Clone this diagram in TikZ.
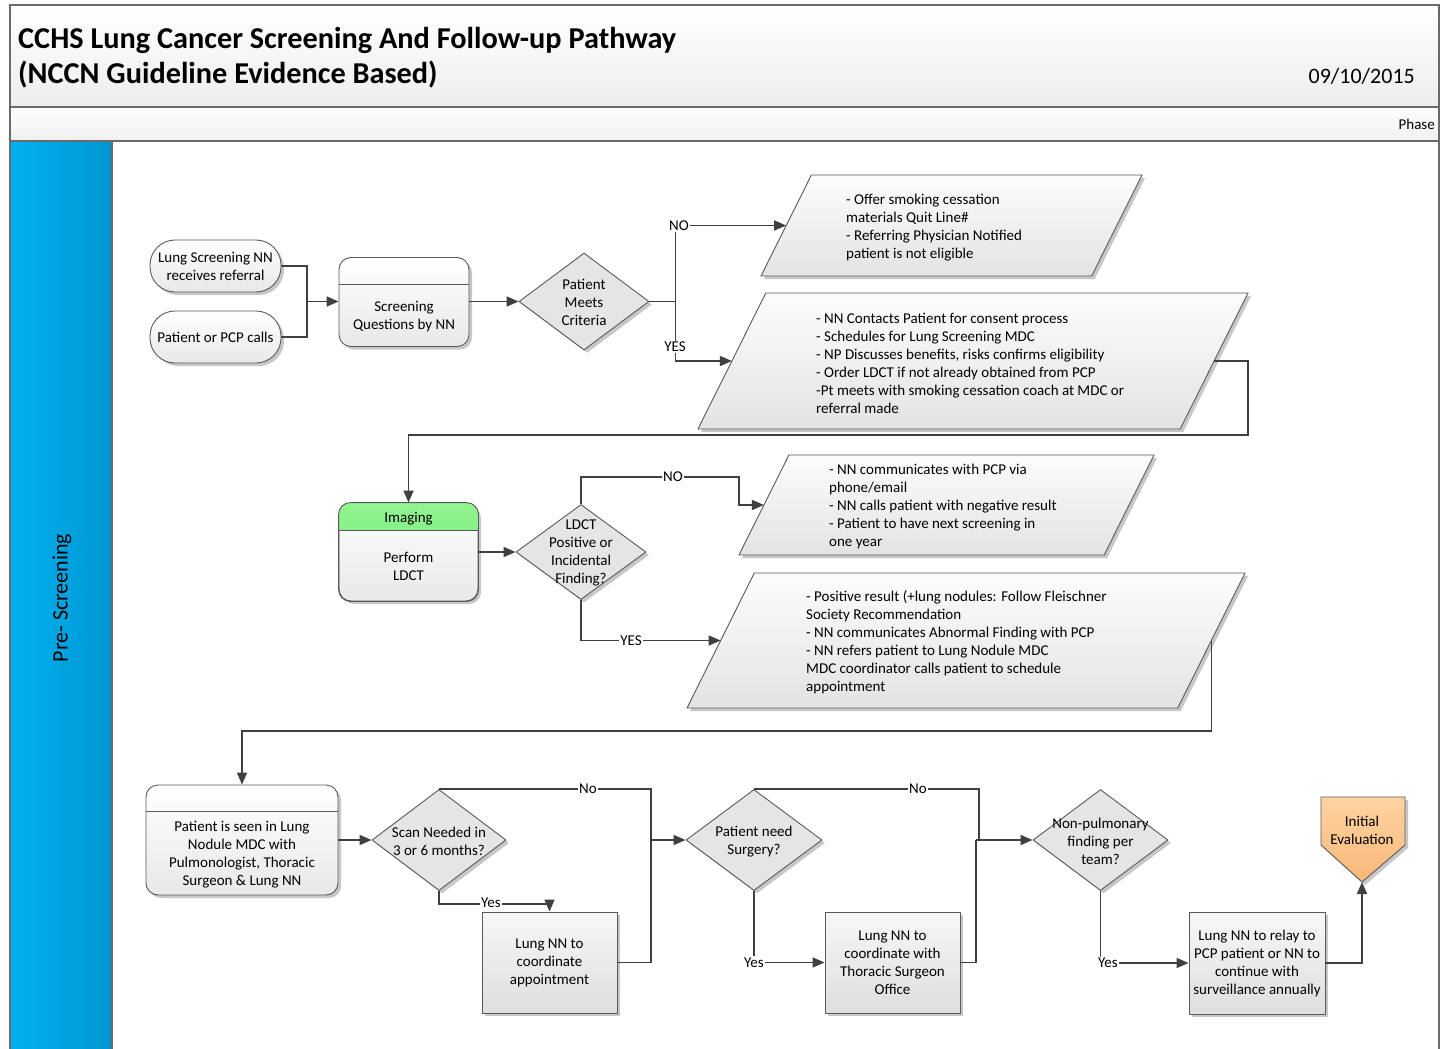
\documentclass[tikz,border=0pt]{standalone}
\usepackage{fontspec}
\setmainfont{Carlito}
\usetikzlibrary{arrows.meta,shapes.geometric,shadows,calc}
\definecolor{linec}{HTML}{404040}
\definecolor{edgec}{HTML}{5A5A5A}
\definecolor{framec}{HTML}{6A6A6A}
\definecolor{lanec}{HTML}{00B2F0}
\definecolor{laned}{HTML}{0096D2}
\definecolor{hdrtop}{HTML}{92F592}
\definecolor{hdrbot}{HTML}{6EE46E}
\definecolor{ietop}{HTML}{FFD3A3}
\definecolor{iebot}{HTML}{F8B877}
\newcommand\txtsize{\fontsize{15}{18}\selectfont}
% parallelogram (data box): name, centre x, centre y, width, height
\newcommand\ioshape[5]{%
  \pgfmathsetmacro\ioo{#5*0.4986}%
  \path[io] (#2-#4/2, #3+#5/2) -- (#2-#4/2+\ioo, #3-#5/2) -- (#2+#4/2, #3-#5/2)
    -- (#2+#4/2-\ioo, #3+#5/2) -- cycle;
  \coordinate (#1-w) at (#2-#4/2+\ioo/2, #3);
  \coordinate (#1-e) at (#2+#4/2-\ioo/2, #3);
}

\begin{document}
\begin{tikzpicture}[x=1pt,y=-1pt,
  conn/.style={draw=linec, line width=1.6pt},
  arr/.style={conn, -{Triangle[length=12pt,width=10pt]}},
  txt/.style={font=\txtsize, align=center, inner sep=0pt, yshift=-1.2pt},
  para/.style={font=\txtsize, align=left, inner sep=0pt, anchor=west, yshift=-1.5pt},
  lbl/.style={font=\txtsize, fill=white, inner sep=1.5pt},
  shd/.style={drop shadow={shadow xshift=3pt, shadow yshift=-3pt, opacity=0.22, fill=black}},
  term/.style={draw=edgec, line width=0.9pt, rounded corners=25pt, top color=white, bottom color=black!9,
    minimum width=131pt, minimum height=52pt, shd, font=\txtsize, align=center},
  hbox/.style={draw=edgec, line width=0.9pt, rounded corners=12pt, top color=white, bottom color=black!9, shd},
  rbox/.style={draw=edgec, line width=0.9pt, top color=black!3, bottom color=black!13, shd,
    font=\txtsize, align=center, minimum width=135pt, minimum height=101pt},
  dec/.style={diamond, draw=edgec, line width=0.9pt, fill=black!10, shd, inner sep=0pt},
  io/.style={draw=edgec, line width=0.9pt, top color=black!1, bottom color=black!11, shd},
]
\useasboundingbox (0,0) rectangle (1452,1049);

% ---------- page frame, title and lane ----------
\shade[top color=white, bottom color=black!7] (10,5) rectangle (1439,107);
\shade[top color=white, bottom color=black!6] (10,107) rectangle (1439,141);
\shade[left color=lanec, right color=laned] (10,141) rectangle (112,1049);
\draw[framec, line width=1.5pt] (10,1049) -- (10,5) -- (1439,5) -- (1439,1049);
\draw[framec, line width=1.5pt] (10,107) -- (1439,107);
\draw[framec, line width=1.5pt] (10,141) -- (1439,141);
\draw[framec, line width=1.5pt] (112,141) -- (112,1049);

\node[anchor=base west, inner sep=0pt, font={\fontsize{30.3}{35}\selectfont\bfseries}] (title1) at (18,49)
  {CCHS Lung Cancer Screening And Follow-up Pathway};
\node[anchor=base west, inner sep=0pt, font={\fontsize{30.3}{35}\selectfont\bfseries}] (title2) at (18,84)
  {(NCCN Guideline Evidence Based)};
\node[anchor=base east, inner sep=0pt, font={\fontsize{22}{26}\selectfont}] (date) at (1415,83.5) {09/10/2015};
\node[anchor=base east, inner sep=0pt, font={\fontsize{15}{18}\selectfont}] (phase) at (1435,129.5) {Phase};
\node[rotate=90, inner sep=0pt, font={\fontsize{22}{26}\selectfont}] (lanelabel) at (62,598) {Pre- Screening};

% ---------- referral and screening ----------
\node[term] (t1) at (215.5,266) {Lung Screening NN\\receives referral};
\node[term] (t2) at (215.5,337) {Patient or PCP calls};

\node[hbox, minimum width=130pt, minimum height=89pt] (scr) at (404,302) {};
\draw[edgec, line width=0.9pt] (scr.west |- 0,284) -- (scr.east |- 0,284);
\node[txt] (scrt) at (404,315) {Screening\\Questions by NN};

\node[dec, minimum width=130pt, minimum height=97pt] (d1) at (584,301.5) {};
\node[txt] (d1t) at (d1) {Patient\\Meets\\Criteria};

\ioshape{p1}{951.5}{225.5}{381}{101}
\node[para] (p1t) at (846,226) {- Offer smoking cessation\\materials Quit Line\#\\- Referring Physician Notified\\patient is not eligible};

\ioshape{p2}{973}{361}{550}{136}
\node[para] (p2t) at (816,361.5) {- NN Contacts Patient for consent process\\- Schedules for Lung Screening MDC\\- NP Discusses benefits, risks confirms eligibility\\- Order LDCT if not already obtained from PCP\\-Pt meets with smoking cessation coach at MDC or\\referral made};

% ---------- imaging ----------
\node[hbox, minimum width=139pt, minimum height=98pt] (img) at (408.5,552) {};
\begin{scope}
  \clip (339,503) rectangle (478,530);
  \shade[top color=hdrtop, bottom color=hdrbot, rounded corners=12pt] (img.south west) rectangle (img.north east);
\end{scope}
\draw[edgec, line width=0.9pt, rounded corners=12pt] (img.south west) rectangle (img.north east);
\draw[edgec, line width=0.9pt] (img.west |- 0,530) -- (img.east |- 0,530);
\node[txt] (imgh) at (408.5,517) {Imaging};
\node[txt] (imgt) at (408.5,565) {Perform\\LDCT};

\node[dec, minimum width=130pt, minimum height=95pt] (d2) at (581,552) {};
\node[txt] (d2t) at (d2) {LDCT\\Positive or\\Incidental\\Finding?};

\ioshape{p3}{946.5}{505}{415}{100}
\node[para] (p3t) at (829,505) {- NN communicates with PCP via\\phone/email\\- NN calls patient with negative result\\- Patient to have next screening in\\one year};

\ioshape{p4}{966}{640.5}{558}{135}
\node[para] (p4t) at (806,640.5) {- Positive result (+lung nodules: Follow Fleischner\\Society Recommendation\\- NN communicates Abnormal Finding with PCP\\- NN refers patient to Lung Nodule MDC\\MDC coordinator calls patient to schedule\\appointment};

% ---------- nodule clinic and follow-up ----------
\node[hbox, minimum width=192pt, minimum height=110pt] (b1) at (242,840) {};
\draw[edgec, line width=0.9pt] (b1.west |- 0,811) -- (b1.east |- 0,811);
\node[txt] (b1t) at (242,853.5) {Patient is seen in Lung\\Nodule MDC with\\Pulmonologist, Thoracic\\Surgeon \& Lung NN};

\node[dec, minimum width=134pt, minimum height=101pt] (d3) at (439,840) {};
\node[txt] (d3t) at (d3) {Scan Needed in\\3 or 6 months?};

\node[rbox] (bx1) at (549.5,962.5) {Lung NN to\\coordinate\\appointment};

\node[dec, minimum width=136pt, minimum height=101pt] (d4) at (754,840) {};
\node[txt] (d4t) at (d4) {Patient need\\Surgery?};

\node[rbox] (bx2) at (892.5,962.5) {Lung NN to\\coordinate with\\Thoracic Surgeon\\Office};

\node[dec, minimum width=135pt, minimum height=101pt] (d5) at (1100.5,840) {};
\node[txt] (d5t) at (d5) {Non-pulmonary\\finding per\\team?};

\node[rbox, minimum width=136pt, minimum height=102pt] (bx3) at (1257,963) {Lung NN to relay to\\PCP patient or NN to\\continue with\\surveillance annually};

% off-page connector
\coordinate (ietip) at (1362,882);
\path[draw=edgec, line width=0.9pt, top color=ietop, bottom color=iebot, shd]
  (1321,797) -- (1405,797) -- (1405,845) -- (ietip) -- (1321,845) -- cycle;
\node[txt] (ie) at (1362,829) {Initial\\Evaluation};

% ---------- connectors ----------
\coordinate (m1) at (307,301.5);
\draw[conn] (t1.east) -| (m1);
\draw[conn] (t2.east) -| (m1);
\draw[arr] (m1) -- (scr.west |- m1);
\draw[arr] (scr.east |- d1.west) -- (d1.west);

\draw[conn] (d1.east) -- ++(26,0) coordinate (j1);
\draw[arr] (j1) |- (p1-w);
\draw[arr] (j1) |- (p2-w);

\coordinate (r1) at (1248,435);
\draw[arr] (p2-e) -| (r1) -| (img.north);

\draw[arr] (img.east) -- (d2.west);
\coordinate (n2) at (739,477);
\draw[arr] (d2.north) |- (n2) |- (p3-w);
\draw[arr] (d2.south) |- (p4-w);

\coordinate (r2) at (0,731);
\draw[arr] (p4-e) -- (p4-e |- r2) -| (b1.north);

\draw[arr] (b1.east) -- (d3.west);
\coordinate (m3) at (651,840);
\draw[conn] (d3.north) -| (m3);
\draw[arr] (d3.south) -- ++(0,13) -| (bx1.north);
\draw[conn] (bx1.east) -| (m3);
\draw[arr] (m3) -- (d4.west);

\coordinate (m4) at (979,840);
\coordinate (m4b) at (976,840);
\draw[conn] (d4.north) -| (m4);
\draw[arr] (d4.south) |- (bx2.west);
\draw[conn] (bx2.east) -| (m4b);
\draw[arr] (m4b) -- (d5.west);

\draw[arr] (d5.south) |- (bx3.west);
\draw[arr] (bx3.east) -| (ietip);

% ---------- connector labels ----------
\node[lbl] (lno1) at (679,225.5) {NO};
\node[lbl] (lyes1) at (675,347) {YES};
\node[lbl] (lno2) at (673,477) {NO};
\node[lbl] (lyes2) at (631,640.5) {YES};
\node[lbl] (lno3) at (588,789) {No};
\node[lbl] (lyes3) at (491,903) {Yes};
\node[lbl] (lno4) at (918,789) {No};
\node[lbl] (lyes4) at (754,962.5) {Yes};
\node[lbl] (lyes5) at (1108,963) {Yes};
\end{tikzpicture}
\end{document}
